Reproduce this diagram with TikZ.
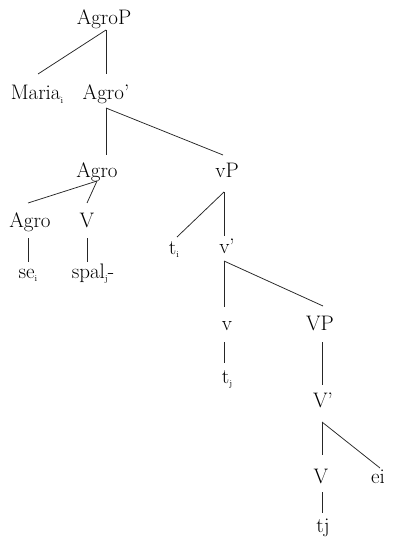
\documentclass[tikz,border=0pt]{standalone}
\tikzset{
  lab/.style={anchor=base, inner sep=0pt, font=\fontsize{21}{23}\selectfont},
  branch/.style={line width=0.75pt, black!85}
}
\newcommand\idx[1]{\raisebox{-0.18em}{\fontsize{9}{9}\selectfont #1}}
\begin{document}
\begin{tikzpicture}[x=1pt,y=-1pt]
\useasboundingbox (0,0) rectangle (392,540);

% labels (placed on their baselines)
\node[lab] (AgroP)  at (104,25)  {AgroP};
\node[lab] (Maria)  at (37,100)  {Maria\idx{i}};
\node[lab] (Agrob)  at (106,100) {Agro'};
\node[lab] (Agro)   at (97,178)  {Agro};
\node[lab] (vP)     at (227,178) {vP};
\node[lab] (AgroL)  at (30,227)  {Agro};
\node[lab] (Vhead)  at (87,227)  {V};
\node[lab] (se)     at (28,278)  {se\idx{i}};
\node[lab] (spal)   at (93,278)  {spal\idx{j}-};
\node[lab] (ti)     at (174,254) {t\idx{i}};
\node[lab] (vbar)   at (227,253) {v'};
\node[lab] (vhead)  at (227,330) {v};
\node[lab] (VP)     at (320,330) {VP};
\node[lab] (tjsub)  at (227,383) {t\idx{j}};
\node[lab] (Vbar)   at (323,407) {V'};
\node[lab] (Vlow)   at (321,483) {V};
\node[lab] (ei)     at (378,483) {ei};
\node[lab] (tj)     at (323,532) {tj};

% branches
\draw[branch] ([shift={(2,5)}]AgroP.base) -- ([shift={(1,-26)}]Maria.base);
\draw[branch] ([shift={(2,5)}]AgroP.base) -- ([shift={(0,-26)}]Agrob.base);
\draw[branch] ([shift={(0,8)}]Agrob.base) -- ([shift={(9,-23)}]Agro.base);
\draw[branch] ([shift={(0,8)}]Agrob.base) -- ([shift={(-4,-23)}]vP.base);
\draw[branch] ([shift={(0,3)}]Agro.base) -- ([shift={(-2,-24)}]AgroL.base);
\draw[branch] ([shift={(0,3)}]Agro.base) -- ([shift={(0,-24)}]Vhead.base);
\draw[branch] ([shift={(-2,11)}]AgroL.base) -- ([shift={(0,-16)}]se.base);
\draw[branch] ([shift={(0,11)}]Vhead.base) -- ([shift={(-6,-16)}]spal.base);
\draw[branch] ([shift={(-3,14)}]vP.base) -- ([shift={(3,-17)}]ti.base);
\draw[branch] ([shift={(-3,14)}]vP.base) -- ([shift={(-3,-17)}]vbar.base);
\draw[branch] ([shift={(-3,8)}]vbar.base) -- ([shift={(-3,-23)}]vhead.base);
\draw[branch] ([shift={(-3,8)}]vbar.base) -- ([shift={(3,-24)}]VP.base);
\draw[branch] ([shift={(-3,12)}]vhead.base) -- ([shift={(-3,-20)}]tjsub.base);
\draw[branch] ([shift={(2,12)}]VP.base) -- ([shift={(-1,-22)}]Vbar.base);
\draw[branch] ([shift={(-1,15)}]Vbar.base) -- ([shift={(1,-28)}]Vlow.base);
\draw[branch] ([shift={(-1,15)}]Vbar.base) -- ([shift={(2,-15)}]ei.base);
\draw[branch] ([shift={(1,9)}]Vlow.base) -- ([shift={(-1,-19)}]tj.base);
\end{tikzpicture}
\end{document}
